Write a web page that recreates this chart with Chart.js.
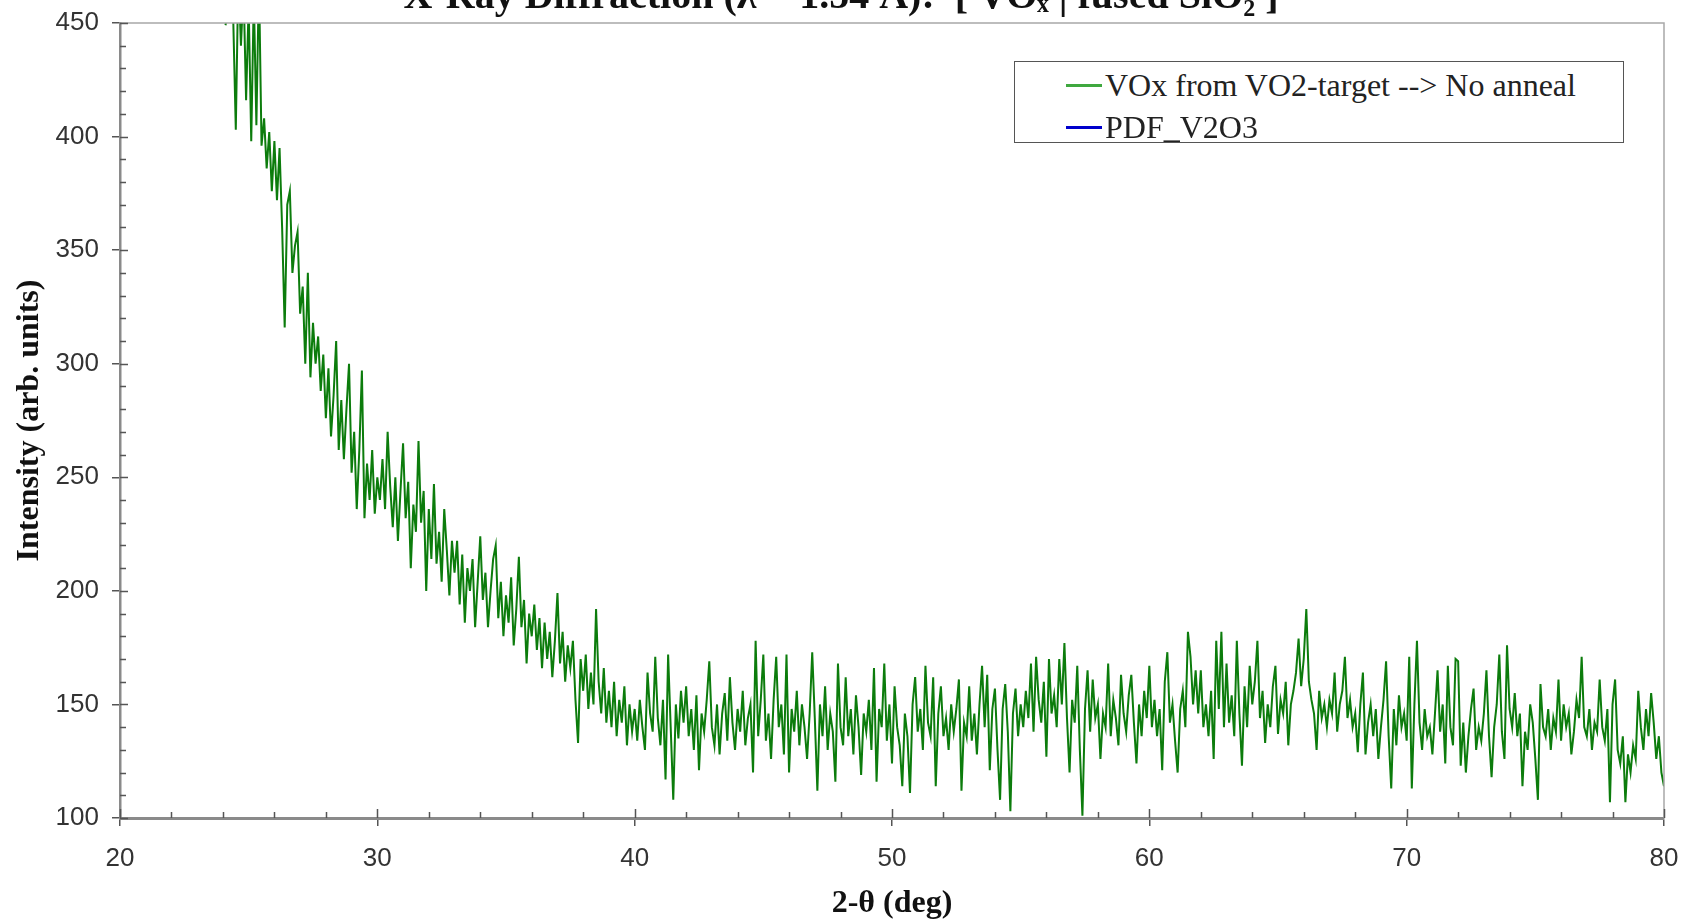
<!DOCTYPE html>
<html>
<head>
<meta charset="utf-8">
<script src="https://cdn.jsdelivr.net/npm/chart.js@4.4.1/dist/chart.umd.min.js"></script>
<style>
  html, body { margin: 0; padding: 0; background: #ffffff; overflow: hidden; width: 1682px; height: 920px; }
  #wrap { position: relative; width: 1682px; height: 920px; overflow: hidden; }
  #c { position: absolute; left: 0; top: -26px; }
  #legend { position: absolute; left: 1014px; top: 61px; width: 608px; height: 80px; border: 1.5px solid #555; background: #fff;
            font-family: "Liberation Serif", "Times New Roman", serif; font-size: 32px; color: #222; }
  .row { position: absolute; left: 0; height: 40px; line-height: 40px; white-space: nowrap; }
  .sample { position: absolute; top: 19px; width: 36px; height: 3px; }
  .lbl { position: absolute; left: 90px; }
</style>
</head>
<body>
<div id="wrap">
  <canvas id="c" width="1682" height="946"></canvas>
  <div id="legend"></div>
</div>
<script>
// ---- DATA ----
const titleText = 'X-Ray Diffraction (\u03bb = 1.54 \u00c5):  [ VO\u2093 | fused SiO\u2082 ]';
const seriesNames = ['VOx from VO2-target --> No anneal', 'PDF_V2O3'];
const xTicks = [20, 30, 40, 50, 60, 70, 80];
const yTicks = [100, 150, 200, 250, 300, 350, 400, 450];

const twoTheta = [
  24.1,24.2,24.3,24.4,24.5,24.6,24.7,24.8,24.9,
  25.0,25.1,25.2,25.3,25.4,25.5,25.6,25.7,25.8,25.9,
  26.0,26.1,26.2,26.3,26.4,26.5,26.6,26.7,26.8,26.9,
  27.0,27.1,27.2,27.3,27.4,27.5,27.6,27.7,27.8,27.9,
  28.0,28.1,28.2,28.3,28.4,28.5,28.6,28.7,28.8,28.9,
  29.0,29.1,29.2,29.3,29.4,29.5,29.6,29.7,29.8,29.9,
  30.0,30.1,30.2,30.3,30.4,30.5,30.6,30.7,30.8,30.9,
  31.0,31.1,31.2,31.3,31.4,31.5,31.6,31.7,31.8,31.9,
  32.0,32.1,32.2,32.3,32.4,32.5,32.6,32.7,32.8,32.9,
  33.0,33.1,33.2,33.3,33.4,33.5,33.6,33.7,33.8,33.9,
  34.0,34.1,34.2,34.3,34.4,34.5,34.6,34.7,34.8,34.9,
  35.0,35.1,35.2,35.3,35.4,35.5,35.6,35.7,35.8,35.9,
  36.0,36.1,36.2,36.3,36.4,36.5,36.6,36.7,36.8,36.9,
  37.0,37.1,37.2,37.3,37.4,37.5,37.6,37.7,37.8,37.9,
  38.0,38.1,38.2,38.3,38.4,38.5,38.6,38.7,38.8,38.9,
  39.0,39.1,39.2,39.3,39.4,39.5,39.6,39.7,39.8,39.9,
  40.0,40.1,40.2,40.3,40.4,40.5,40.6,40.7,40.8,40.9,
  41.0,41.1,41.2,41.3,41.4,41.5,41.6,41.7,41.8,41.9,
  42.0,42.1,42.2,42.3,42.4,42.5,42.6,42.7,42.8,42.9,
  43.0,43.1,43.2,43.3,43.4,43.5,43.6,43.7,43.8,43.9,
  44.0,44.1,44.2,44.3,44.4,44.5,44.6,44.7,44.8,44.9,
  45.0,45.1,45.2,45.3,45.4,45.5,45.6,45.7,45.8,45.9,
  46.0,46.1,46.2,46.3,46.4,46.5,46.6,46.7,46.8,46.9,
  47.0,47.1,47.2,47.3,47.4,47.5,47.6,47.7,47.8,47.9,
  48.0,48.1,48.2,48.3,48.4,48.5,48.6,48.7,48.8,48.9,
  49.0,49.1,49.2,49.3,49.4,49.5,49.6,49.7,49.8,49.9,
  50.0,50.1,50.2,50.3,50.4,50.5,50.6,50.7,50.8,50.9,
  51.0,51.1,51.2,51.3,51.4,51.5,51.6,51.7,51.8,51.9,
  52.0,52.1,52.2,52.3,52.4,52.5,52.6,52.7,52.8,52.9,
  53.0,53.1,53.2,53.3,53.4,53.5,53.6,53.7,53.8,53.9,
  54.0,54.1,54.2,54.3,54.4,54.5,54.6,54.7,54.8,54.9,
  55.0,55.1,55.2,55.3,55.4,55.5,55.6,55.7,55.8,55.9,
  56.0,56.1,56.2,56.3,56.4,56.5,56.6,56.7,56.8,56.9,
  57.0,57.1,57.2,57.3,57.4,57.5,57.6,57.7,57.8,57.9,
  58.0,58.1,58.2,58.3,58.4,58.5,58.6,58.7,58.8,58.9,
  59.0,59.1,59.2,59.3,59.4,59.5,59.6,59.7,59.8,59.9,
  60.0,60.1,60.2,60.3,60.4,60.5,60.6,60.7,60.8,60.9,
  61.0,61.1,61.2,61.3,61.4,61.5,61.6,61.7,61.8,61.9,
  62.0,62.1,62.2,62.3,62.4,62.5,62.6,62.7,62.8,62.9,
  63.0,63.1,63.2,63.3,63.4,63.5,63.6,63.7,63.8,63.9,
  64.0,64.1,64.2,64.3,64.4,64.5,64.6,64.7,64.8,64.9,
  65.0,65.1,65.2,65.3,65.4,65.5,65.6,65.7,65.8,65.9,
  66.0,66.1,66.2,66.3,66.4,66.5,66.6,66.7,66.8,66.9,
  67.0,67.1,67.2,67.3,67.4,67.5,67.6,67.7,67.8,67.9,
  68.0,68.1,68.2,68.3,68.4,68.5,68.6,68.7,68.8,68.9,
  69.0,69.1,69.2,69.3,69.4,69.5,69.6,69.7,69.8,69.9,
  70.0,70.1,70.2,70.3,70.4,70.5,70.6,70.7,70.8,70.9,
  71.0,71.1,71.2,71.3,71.4,71.5,71.6,71.7,71.8,71.9,
  72.0,72.1,72.2,72.3,72.4,72.5,72.6,72.7,72.8,72.9,
  73.0,73.1,73.2,73.3,73.4,73.5,73.6,73.7,73.8,73.9,
  74.0,74.1,74.2,74.3,74.4,74.5,74.6,74.7,74.8,74.9,
  75.0,75.1,75.2,75.3,75.4,75.5,75.6,75.7,75.8,75.9,
  76.0,76.1,76.2,76.3,76.4,76.5,76.6,76.7,76.8,76.9,
  77.0,77.1,77.2,77.3,77.4,77.5,77.6,77.7,77.8,77.9,
  78.0,78.1,78.2,78.3,78.4,78.5,78.6,78.7,78.8,78.9,
  79.0,79.1,79.2,79.3,79.4,79.5,79.6,79.7,79.8,79.9,
  80.0
];

const intensityVOx = [
  449,456,468,452,403,472,440,466,416,
  458,398,462,405,470,396,408,386,402,376,
  398,372,395,360,316,370,376,340,352,358,
  322,334,300,340,294,318,300,312,288,304,
  276,298,268,286,310,262,284,258,280,300,
  252,270,236,262,297,232,256,240,262,234,
  250,240,258,236,270,246,228,250,222,244,
  265,232,248,210,238,226,266,230,244,200,
  236,214,247,212,226,204,236,218,198,222,
  208,222,194,216,186,210,200,214,184,204,
  224,196,208,184,200,214,220,188,204,180,
  198,186,206,176,192,215,184,196,168,190,
  180,194,174,188,166,186,170,182,162,178,
  199,168,182,160,176,166,178,152,133,170,
  156,172,148,164,150,192,160,146,166,142,
  156,140,160,136,152,142,158,132,150,138,
  148,134,152,140,130,164,146,138,171,144,
  132,152,117,172,140,108,150,135,156,142,
  158,136,148,130,154,121,146,138,152,169,
  140,132,150,128,146,155,134,162,142,130,
  148,138,156,132,144,150,120,178,136,152,
  172,134,146,126,152,171,140,150,128,172,
  120,148,138,156,132,150,140,126,146,173,
  144,112,150,136,158,130,146,138,116,168,
  140,132,162,136,148,128,154,140,119,146,
  138,152,130,166,116,148,140,168,134,150,
  124,158,140,132,114,146,136,111,150,162,
  138,148,130,167,142,136,162,114,146,158,
  136,144,130,150,138,148,161,112,142,136,
  158,134,146,128,150,167,140,163,121,148,
  157,130,108,148,159,138,103,146,157,136,
  150,140,156,144,168,138,171,152,142,160,
  127,170,146,154,140,170,150,177,144,120,
  152,142,167,130,101,148,165,138,161,144,
  150,126,146,140,168,136,152,144,132,163,
  146,138,154,163,142,124,150,136,156,144,
  167,140,152,136,148,121,160,173,142,150,
  134,120,148,156,140,182,171,150,165,146,
  165,140,150,136,156,126,178,148,182,140,
  168,142,154,136,178,146,123,158,140,167,
  150,160,178,144,156,133,150,140,158,167,
  137,152,146,160,132,150,156,164,179,158,
  170,192,160,152,146,130,156,144,150,140,
  152,146,164,138,150,156,171,144,152,140,
  146,129,150,164,128,142,150,136,148,126,
  140,152,169,136,113,148,132,154,140,146,
  134,171,113,150,178,142,130,148,136,140,
  128,146,165,138,150,124,167,140,132,170,
  169,123,142,120,136,148,157,130,140,134,
  146,165,136,118,140,150,172,138,126,176,
  148,140,155,136,146,114,138,130,150,142,
  126,108,159,140,136,148,130,144,138,161,
  134,150,140,146,128,138,152,144,171,140,
  136,148,130,142,138,161,140,134,148,107,
  150,161,130,124,136,107,128,120,132,126,
  156,140,130,148,136,155,142,126,136,120,
  114
];

const pdfV2O3 = [];   // reference pattern: no visible lines in this range

// ---- STYLE ----
const serif = '"Liberation Serif", "Times New Roman", serif';
const sans = '"Liberation Sans", Arial, sans-serif';
const colors = ['#0c7c0c', '#0000cc'];
const legendColors = ['#3fa83f', '#0000cc'];

const pts = twoTheta.map((x, i) => ({ x: x, y: intensityVOx[i] }));

const frameAndMinor = {
  id: 'frameAndMinor',
  afterDraw(chart) {
    const { ctx, chartArea: a, scales: { x, y } } = chart;
    ctx.save();
    ctx.strokeStyle = '#a8a8a8';
    ctx.lineWidth = 1.5;
    ctx.beginPath();
    ctx.moveTo(a.left, a.top); ctx.lineTo(a.right, a.top); ctx.lineTo(a.right, a.bottom);
    ctx.stroke();
    ctx.strokeStyle = '#555';
    ctx.lineWidth = 1.5;
    ctx.beginPath();
    for (let v = y.min; v <= y.max; v += 10) {
      const py = Math.round(y.getPixelForValue(v)) + 0.5;
      const len = (v % 50 === 0) ? 8 : 6;
      ctx.moveTo(a.left, py); ctx.lineTo(a.left + len, py);
    }
    for (let v = x.min; v <= x.max; v += 2) {
      const px = Math.round(x.getPixelForValue(v)) + 0.5;
      const len = (v % 10 === 0) ? 9 : 6;
      ctx.moveTo(px, a.bottom); ctx.lineTo(px, a.bottom - len);
    }
    ctx.stroke();
    ctx.restore();
  }
};

const chart = new Chart(document.getElementById('c'), {
  type: 'line',
  data: {
    datasets: [
      { label: seriesNames[0], data: pts, borderColor: colors[0], backgroundColor: colors[0],
        borderWidth: 2, pointRadius: 0, tension: 0, fill: false },
      { label: seriesNames[1], data: pdfV2O3, borderColor: colors[1], backgroundColor: colors[1],
        borderWidth: 2, pointRadius: 0, fill: false }
    ]
  },
  options: {
    responsive: false,
    animation: false,
    devicePixelRatio: 1,
    layout: { padding: { left: 0, right: 0, top: 0, bottom: 0 } },
    plugins: {
      legend: { display: false },
      tooltip: { enabled: false },
      title: {
        display: true, text: titleText, color: '#111',
        font: { family: serif, size: 40, weight: 'bold', lineHeight: 1.2 },
        padding: { top: 0, bottom: 1 }
      }
    },
    scales: {
      x: {
        type: 'linear', min: xTicks[0], max: xTicks[xTicks.length - 1],
        afterBuildTicks: s => { s.ticks = xTicks.map(v => ({ value: v })); },
        afterFit: s => { s.height = 102; s.paddingRight = 18; s.paddingLeft = 0; },
        grid: { drawOnChartArea: false, drawTicks: true, tickLength: 8, color: '#555', lineWidth: 1.5 },
        border: { display: true, color: '#8a8a8a', width: 3 },
        ticks: { font: { family: sans, size: 26 }, color: '#333', padding: 17, maxRotation: 0 },
        title: { display: true, text: '2-\u03b8 (deg)', color: '#111',
                 font: { family: serif, size: 32, weight: 'bold', lineHeight: 1.0 }, padding: { top: 0, bottom: 0 } }
      },
      y: {
        type: 'linear', min: yTicks[0], max: yTicks[yTicks.length - 1],
        afterBuildTicks: s => { s.ticks = yTicks.map(v => ({ value: v })); },
        afterFit: s => { s.width = 120; },
        grid: { drawOnChartArea: false, drawTicks: true, tickLength: 8, color: '#555', lineWidth: 1.5 },
        border: { display: true, color: '#8a8a8a', width: 2.5 },
        ticks: { font: { family: sans, size: 26 }, color: '#333', padding: 13 },
        title: { display: true, text: 'Intensity (arb. units)', color: '#111',
                 font: { family: serif, size: 32, weight: 'bold', lineHeight: 1.2 }, padding: { top: 10.5, bottom: 0 } }
      }
    }
  },
  plugins: [frameAndMinor]
});

const legend = document.getElementById('legend');
chart.data.datasets.forEach((ds, i) => {
  const row = document.createElement('div');
  row.className = 'row';
  row.style.top = (3 + i * 42) + 'px';
  row.style.width = '100%';
  const s = document.createElement('div');
  s.className = 'sample';
  s.style.left = '51px';
  s.style.background = legendColors[i];
  const t = document.createElement('span');
  t.className = 'lbl';
  t.textContent = ds.label;
  row.appendChild(s); row.appendChild(t);
  legend.appendChild(row);
});
</script>
</body>
</html>
